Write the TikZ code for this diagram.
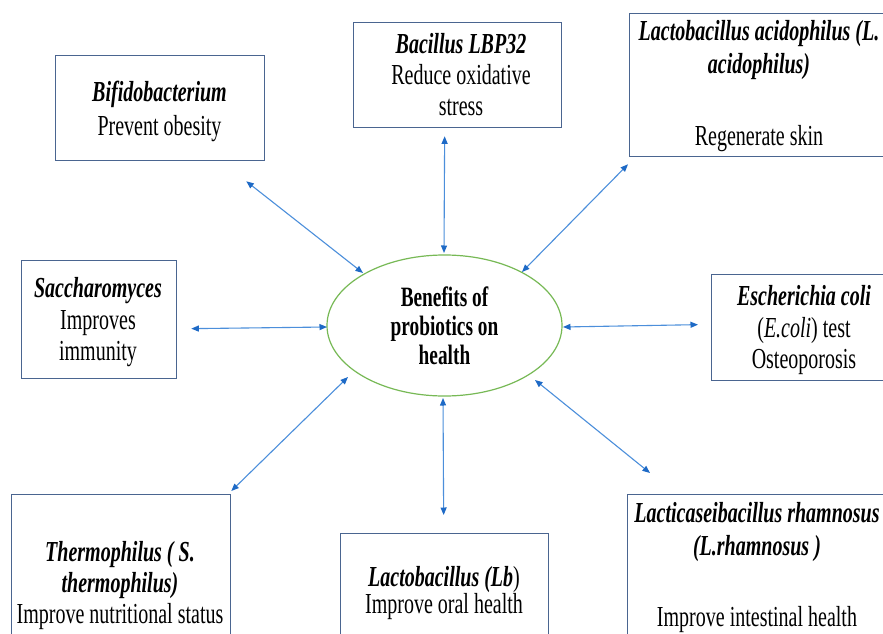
\documentclass[tikz,border=0pt]{standalone}
\usepackage{fontspec}
\setmainfont{Liberation Serif}[FakeStretch=0.69]
\usetikzlibrary{arrows.meta,shapes.geometric}
\definecolor{boxc}{HTML}{4A6590}
\definecolor{arrc}{HTML}{4C8FDB}
\definecolor{headc}{HTML}{1E6AC6}
\definecolor{ellc}{HTML}{77B955}
\begin{document}
\begin{tikzpicture}[x=1pt,y=-1pt,
  box/.style={draw=boxc, line width=1.3pt, anchor=north west, inner sep=0pt},
  txt/.style={font=\fontsize{29}{#1}\selectfont, align=center, anchor=base, inner sep=0pt},
  arr/.style={draw=arrc, line width=1.1pt, {Triangle[length=7.5pt,width=6pt,color=headc]}-{Triangle[length=7.5pt,width=6pt,color=headc]}}]
\useasboundingbox (0,0) rectangle (883,634);
\fill[white] (0,0) rectangle (883,634);
\clip (0,0) rectangle (883,634);

% boxes
\node[box, minimum width=209pt, minimum height=105pt] (bifido) at (55,55) {};
\node[box, minimum width=208pt, minimum height=105pt] (bacillus) at (353,22) {};
\node[box, minimum width=260pt, minimum height=143pt] (acid) at (629,13) {};
\node[box, minimum width=155pt, minimum height=118pt] (sacch) at (21,260) {};
\node[box, minimum width=186pt, minimum height=106pt] (ecoli) at (711,274) {};
\node[box, minimum width=219pt, minimum height=190pt] (therm) at (11,494) {};
\node[box, minimum width=208pt, minimum height=150pt] (lb) at (340,533) {};
\node[box, minimum width=258pt, minimum height=200pt] (rhamn) at (627,494) {};

% texts (anchored at the baseline of the last line)
\node[txt=34] (bifidot) at (159.5,135) {\textbf{\textit{Bifidobacterium}}\\Prevent obesity};
\node[txt=31] (bacillust) at (461,115) {\textbf{\textit{Bacillus LBP32}}\\Reduce oxidative\\stress};
\node[txt=33] (acidt) at (759,145) {\textbf{\textit{Lactobacillus acidophilus (L.}}\\\textbf{\textit{acidophilus)}}\\[39pt]Regenerate skin};
\node[txt=31.5] (saccht) at (98,360.5) {\textbf{\textit{Saccharomyces}}\\Improves\\immunity};
\node[txt=31.5] (ecolit) at (804,368.5) {\textbf{\textit{Escherichia coli}}\\(\textit{E.coli}) test\\Osteoporosis};
\node[txt=31] (thermt) at (120,623) {\textbf{\textit{Thermophilus ( S.}}\\\textbf{\textit{thermophilus)}}\\Improve nutritional status};
\node[txt=27] (lbt) at (444,613) {\textbf{\textit{Lactobacillus (Lb}})\\Improve oral health};
\node[txt=33] (rhamnt) at (757,626) {\textbf{\textit{Lacticaseibacillus rhamnosus}}\\\textbf{\textit{(L.rhamnosus )}}\\[38pt]Improve intestinal health};

% centre
\node[ellipse, draw=ellc, line width=1.2pt, fill=white, minimum width=235pt, minimum height=141pt, inner sep=0pt, align=center, font=\fontsize{28}{29}\selectfont\bfseries] (benefit) at (444.5,325.5) {Benefits of\\probiotics on\\health};

% connectors
\draw[arr] ([shift={(-19,20)}]bifido.south east) -- ([shift={(-81.5,-52.5)}]benefit.center);
\draw[arr] ([shift={(-13,8)}]bacillus.south) -- ([shift={(-0.5,-72.5)}]benefit.center);
\draw[arr] ([shift={(-1,7)}]acid.south west) -- ([shift={(77.5,-53.5)}]benefit.center);
\draw[arr] ([shift={(14,9)}]sacch.east) -- ([shift={(-117.5,1.5)}]benefit.center);
\draw[arr] ([shift={(-13,-3)}]ecoli.west) -- ([shift={(118.5,1.5)}]benefit.center);
\draw[arr] ([shift={(0,-3)}]therm.north east) -- ([shift={(-96.5,51.5)}]benefit.center);
\draw[arr] ([shift={(-1,-18)}]lb.north) -- ([shift={(-1.5,72.5)}]benefit.center);
\draw[arr] ([shift={(23,-21)}]rhamn.north west) -- ([shift={(90.5,54.5)}]benefit.center);
\end{tikzpicture}
\end{document}
